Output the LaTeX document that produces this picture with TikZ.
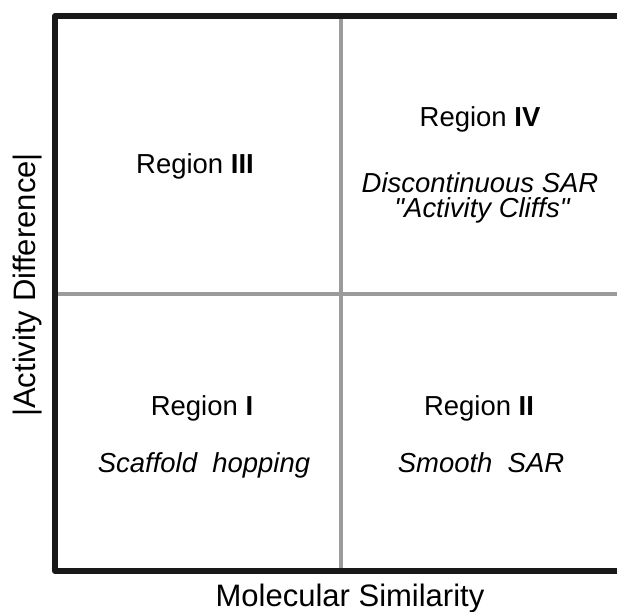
\documentclass[tikz,border=0pt]{standalone}
\usepackage{fontspec}
\setmainfont{Liberation Sans}[Ligatures=TeXOff]
\begin{document}
\begin{tikzpicture}[x=0.75pt,y=-0.75pt,
  frame/.style={draw=black!90, line width=4.5pt, line join=round},
  divider/.style={draw={rgb,255:red,155;green,155;blue,155}, line width=3pt},
  region/.style={inner sep=0pt, anchor=base, font=\fontsize{20.6}{24}\selectfont},
  note/.style={region, font=\fontsize{20.6}{24}\selectfont\itshape},
  axis/.style={inner sep=0pt, anchor=base, font=\fontsize{23.25}{28}\selectfont}]
  \useasboundingbox (0,0) rectangle (617,611);

  % corners of the plot area
  \coordinate (tl) at (55,16);
  \coordinate (bl) at (55,571);
  \coordinate (tr) at (617,16);
  \coordinate (br) at (617,571);
  % ends of the dividing lines
  \coordinate (vt) at (341,16);
  \coordinate (vb) at (341,571);
  \coordinate (hl) at (55,294);
  \coordinate (hr) at (617,294);

  % quadrant dividers
  \draw[divider] (vt) -- (vb);
  \draw[divider] (hl) -- (hr);

  % open frame: top, left and bottom sides
  \draw[frame] (tr) -- (tl) -- (bl) -- (br);

  % quadrant labels
  \node[region] (r3) at (195,173) {Region \textbf{III}};
  \node[region] (r4) at (480,126) {Region \textbf{IV}};
  \node[note]   (r4a) at (480,192) {Discontinuous SAR};
  \node[note]   (r4b) at (482,217) {"Activity Cliffs"};
  \node[region] (r1) at (202,415) {Region \textbf{I}};
  \node[note]   (r1a) at (204,472) {Scaffold\ \ hopping};
  \node[region] (r2) at (479,415) {Region \textbf{II}};
  \node[note]   (r2a) at (481,472) {Smooth\ \ SAR};

  % axis titles
  \node[axis] (xl) at (350,606) {Molecular Similarity};
  \node[axis, rotate=90] (yl) at (36,285) {|Activity Difference|};
\end{tikzpicture}
\end{document}
